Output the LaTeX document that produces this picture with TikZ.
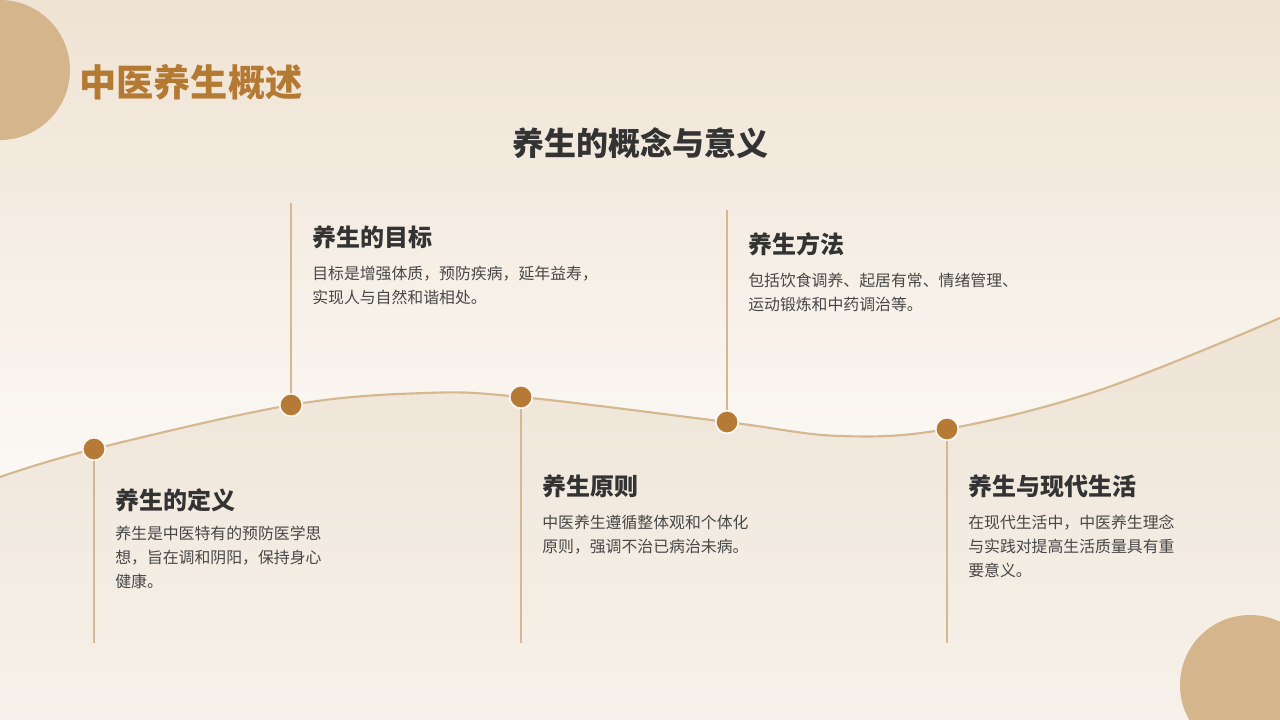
\documentclass[tikz,border=0pt]{standalone}
\usepackage{fontspec}
\setmainfont{Noto Sans CJK SC}
\definecolor{bgTop}{HTML}{EFE3D3}
\definecolor{bgMid}{HTML}{FBF8F4}
\definecolor{bgBot}{HTML}{F6F0E8}
\definecolor{lowTop}{HTML}{EEE4D6}
\definecolor{lowBot}{HTML}{F6F1EA}
\definecolor{lineC}{HTML}{D5B88F}
\definecolor{dotC}{HTML}{B57A35}
\definecolor{circC}{HTML}{D4B58C}
\definecolor{titleC}{HTML}{B47A33}
\definecolor{headC}{HTML}{333333}
\definecolor{bodyC}{HTML}{474747}
\begin{document}
\begin{tikzpicture}[x=0.75pt,y=-0.75pt,
  curveline/.style={draw=lineC,line width=1.6pt},
  vline/.style={draw=lineC,line width=1.1pt},
  dotnode/.style={circle,fill=dotC,draw=bgMid,line width=1.3pt,minimum size=17pt,inner sep=0pt},
  headtext/.style={anchor=west,inner sep=0pt,text=headC,font=\fontsize{18pt}{22pt}\selectfont\bfseries},
  bodytext/.style={anchor=north west,inner sep=0pt,align=left,text=bodyC,font=\fontsize{11.9pt}{18pt}\selectfont},
  bigcirc/.style={fill=circC}]
\useasboundingbox (0,0) rectangle (1280,720);
% background
\shade[top color=bgTop,bottom color=bgMid] (0,0) rectangle (1280,470);
\shade[top color=bgMid,bottom color=bgBot] (0,470) rectangle (1280,720);
% curve points
\coordinate (c0) at (0,477);
\coordinate (p1) at (94,449);
\coordinate (p2) at (291,405);
\coordinate (cm1) at (425,393);
\coordinate (p3) at (521,397);
\coordinate (p4) at (727,422);
\coordinate (cm2) at (840,436);
\coordinate (p5) at (947,429);
\coordinate (cm3) at (1100,390);
\coordinate (c9) at (1280,318);
% lower area
\shade[top color=lowTop,bottom color=lowBot] plot[smooth,tension=0.6] coordinates {(c0) (p1) (p2) (cm1) (p3) (p4) (cm2) (p5) (cm3) (c9)} -- (1280,720) -- (0,720) -- cycle;
\draw[curveline] plot[smooth,tension=0.6] coordinates {(c0) (p1) (p2) (cm1) (p3) (p4) (cm2) (p5) (cm3) (c9)};
% decorative circles
\fill[bigcirc] (0,70) circle[radius=52.5pt];
\fill[bigcirc] (1250,685) circle[radius=52.5pt];
% titles
\node[anchor=west,inner sep=0pt,text=titleC,font=\fontsize{27.9pt}{32pt}\selectfont\bfseries] (title) at (79,82) {中医养生概述};
\node[inner sep=0pt,text=headC,font=\fontsize{24pt}{28pt}\selectfont\bfseries] (subtitle) at (640,143) {养生的概念与意义};
% line ends
\coordinate (e1) at (94,643);
\coordinate (e2) at (291,203);
\coordinate (e3) at (521,643);
\coordinate (e4) at (727,210);
\coordinate (e5) at (947,643);
% dots
\node[dotnode] (d1) at (p1) {};
\node[dotnode] (d2) at (p2) {};
\node[dotnode] (d3) at (p3) {};
\node[dotnode] (d4) at (p4) {};
\node[dotnode] (d5) at (p5) {};
\draw[vline] (d1) -- (e1);
\draw[vline] (d2) -- (e2);
\draw[vline] (d3) -- (e3);
\draw[vline] (d4) -- (e4);
\draw[vline] (d5) -- (e5);
% texts
\node[headtext] (h1) at (115,500) {养生的定义};
\node[bodytext] (b1) at (115,526) {养生是中医特有的预防医学思\\想，旨在调和阴阳，保持身心\\健康。};
\node[headtext] (h2) at (312,237) {养生的目标};
\node[bodytext] (b2) at (312,266) {目标是增强体质，预防疾病，延年益寿，\\实现人与自然和谐相处。};
\node[headtext] (h3) at (542,486) {养生原则};
\node[bodytext] (b3) at (542,515) {中医养生遵循整体观和个体化\\原则，强调不治已病治未病。};
\node[headtext] (h4) at (748,244) {养生方法};
\node[bodytext] (b4) at (748,273) {包括饮食调养、起居有常、情绪管理、\\运动锻炼和中药调治等。};
\node[headtext] (h5) at (968,486) {养生与现代生活};
\node[bodytext] (b5) at (968,515) {在现代生活中，中医养生理念\\与实践对提高生活质量具有重\\要意义。};
\end{tikzpicture}
\end{document}
